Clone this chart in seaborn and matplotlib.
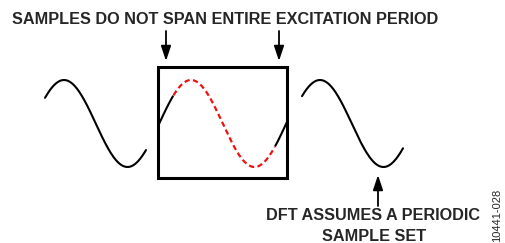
import numpy as np
import pandas as pd
import matplotlib.pyplot as plt
import seaborn as sns

# wave segments in pixel units: (start x, end x, peak x)
wave_segments = {
    'left': (45, 146, 64),
    'box': (158, 287, 191),
    'right': (302, 403, 320),
}
period = 127
amplitude = 43.5
mid_y = 123.5
# part of the boxed wave drawn red dashed
dashed_span = (173, 275)

box = (158, 67.5, 287, 177.5)  # x0, y0, x1, y1
top_arrows_x = [166, 279]
bottom_arrow_x = 378

title = 'SAMPLES DO NOT SPAN ENTIRE EXCITATION PERIOD'
note_lines = ['DFT ASSUMES A PERIODIC', 'SAMPLE SET']
fig_id = '10441-028'

sns.set_style('white')
plt.rcParams['font.family'] = ['Liberation Sans', 'DejaVu Sans']

fig = plt.figure(figsize=(5.06, 2.43), dpi=100)
ax = fig.add_axes([0, 0, 1, 1])


def wave(x0, x1, peak):
    x = np.linspace(x0, x1, 200)
    y = mid_y - amplitude * np.cos(2 * np.pi * (x - peak) / period)
    return pd.DataFrame({'x': x, 'y': y})


for name, (x0, x1, peak) in wave_segments.items():
    d = wave(x0, x1, peak)
    if name == 'box':
        solid1 = d[d.x <= dashed_span[0]]
        dashed = d[(d.x >= dashed_span[0]) & (d.x <= dashed_span[1])]
        solid2 = d[d.x >= dashed_span[1]]
        for s in (solid1, solid2):
            sns.lineplot(data=s, x='x', y='y', ax=ax, color='black', lw=1.5, sort=False)
        sns.lineplot(data=dashed, x='x', y='y', ax=ax, color='#ee1111', lw=1.6,
                     sort=False, dashes=False, linestyle=(0, (2.4, 1.5)))
    else:
        sns.lineplot(data=d, x='x', y='y', ax=ax, color='black', lw=1.5, sort=False)

# box
bx0, by0, bx1, by1 = box
ax.plot([bx0, bx1, bx1, bx0, bx0], [by0, by0, by1, by1, by0], color='black', lw=2.2,
        solid_joinstyle='miter')

# arrows
arrow_style = dict(arrowstyle='-|>,head_length=0.9,head_width=0.3', color='black', lw=1.3,
                   shrinkA=0, shrinkB=0)
for ax_x in top_arrows_x:
    ax.annotate('', xy=(ax_x, 61), xytext=(ax_x, 31), arrowprops=arrow_style)
ax.annotate('', xy=(bottom_arrow_x, 175), xytext=(bottom_arrow_x, 206), arrowprops=arrow_style)

# texts
ax.text(12, 20, title, fontsize=11.7, fontweight='bold', ha='left', va='center')
ax.text(373, 215, note_lines[0], fontsize=11.7, fontweight='bold', ha='center', va='center')
ax.text(374, 236, note_lines[1], fontsize=11.7, fontweight='bold', ha='center', va='center')
ax.text(497, 215, fig_id, fontsize=8, rotation=90, ha='center', va='center')

ax.set_xlim(0, 506)
ax.set_ylim(243, 0)
ax.axis('off')

fig.savefig('out.png', dpi=100)
